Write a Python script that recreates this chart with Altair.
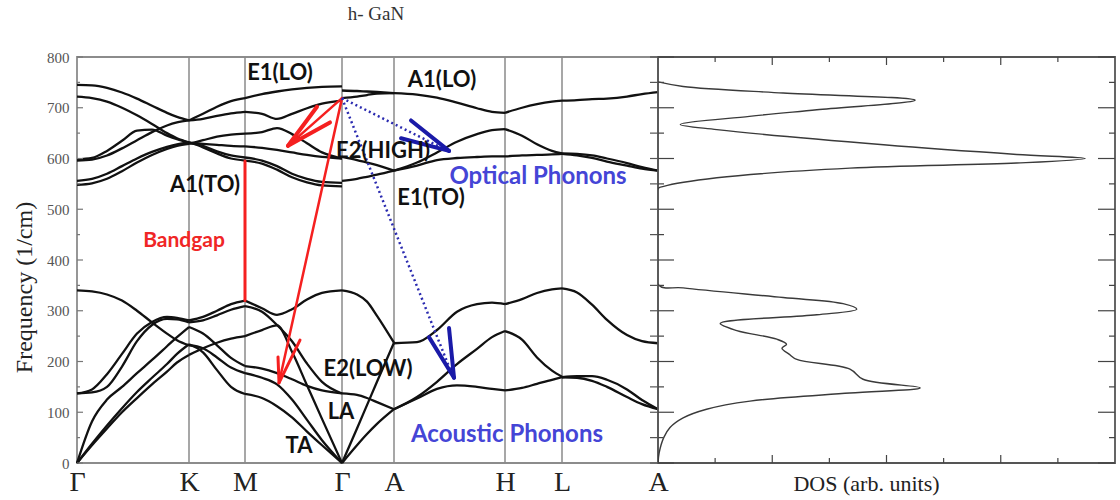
import altair as alt
import pandas as pd

# ---------------- data ----------------
kpt_labels = ["Γ", "K", "M", "Γ", "A", "H", "L", "A"]
kpt_pos = [0, 112, 168, 265, 317, 428, 485, 581]

GK_k = [0, 15, 30, 45, 60, 75, 90, 100, 112]
GK_bands = [
    [0, 35, 68, 100, 128, 155, 180, 198, 213],
    [0, 38, 74, 108, 140, 168, 195, 215, 234],
    [0, 82, 125, 150, 177, 203, 230, 248, 268],
    [137, 145, 175, 215, 255, 278, 288, 286, 281],
    [137, 139, 150, 190, 240, 272, 284, 283, 277],
    [340, 338, 332, 320, 300, 277, 255, 242, 232],
    [745, 744, 739, 730, 718, 704, 690, 682, 675],
    [722, 719, 712, 700, 685, 668, 650, 640, 632],
    [598, 601, 615, 635, 655, 657, 645, 638, 631],
    [596, 598, 606, 620, 636, 652, 665, 671, 675],
    [556, 560, 570, 585, 600, 613, 623, 628, 631],
    [548, 551, 560, 575, 592, 607, 619, 625, 629],
]

KM_k = [112, 126, 140, 154, 168]
KM_bands = [
    [213, 226, 237, 245, 250],
    [234, 218, 183, 150, 136],
    [268, 255, 232, 207, 191],
    [281, 288, 300, 313, 320],
    [277, 281, 291, 302, 309],
    [232, 226, 208, 188, 177],
    [675, 678, 684, 689, 692],
    [632, 622, 610, 600, 596],
    [631, 629, 627, 625, 624],
    [675, 688, 702, 713, 719],
    [631, 625, 614, 606, 602],
    [629, 636, 643, 647, 649],
]

MG_k = [168, 185, 200, 215, 230, 245, 265]
MG_bands = [
    [320, 305, 292, 303, 322, 335, 340],
    [309, 298, 272, 240, 196, 160, 137],
    [250, 262, 271, 219, 153, 87, 0],
    [191, 186, 177, 165, 152, 143, 137],
    [177, 168, 155, 125, 85, 45, 0],
    [136, 128, 112, 90, 62, 35, 0],
    [719, 727, 732, 736, 739, 741, 742],
    [692, 688, 678, 688, 699, 708, 714],
    [649, 652, 660, 648, 630, 612, 600],
    [624, 621, 617, 612, 607, 603, 600],
    [602, 596, 585, 570, 560, 554, 552],
    [596, 590, 578, 563, 553, 547, 545],
]

GA_k = [265, 280, 290, 300, 317]
GA_bands = [
    [340, 332, 318, 290, 237],
    [0, 68, 114, 160, 237],
    [137, 134, 128, 120, 106],
    [0, 35, 57, 77, 106],
    [734, 733, 732, 731, 729],
    [719, 722, 725, 728, 729],
    [603, 597, 592, 587, 576],
    [556, 560, 564, 568, 576],
]

AH_k = [317, 340, 360, 380, 400, 415, 428]
AH_bands = [
    [236, 238, 262, 298, 313, 316, 313],
    [106, 130, 160, 195, 225, 248, 260],
    [106, 127, 146, 153, 150, 146, 143],
    [729, 726, 720, 710, 699, 692, 690],
    [576, 592, 612, 633, 648, 656, 658],
    [576, 586, 597, 601, 603, 604, 604],
]

HL_k = [428, 445, 460, 475, 485]
HL_bands = [
    [313, 323, 335, 342, 344],
    [260, 243, 208, 182, 170],
    [143, 148, 156, 164, 169],
    [690, 700, 707, 712, 714],
    [658, 645, 628, 615, 610],
    [604, 606, 607, 608, 609],
]

LA_k = [485, 500, 515, 530, 550, 565, 581]
LA_bands = [
    [344, 336, 312, 282, 252, 240, 236],
    [169, 171, 171, 164, 145, 124, 106],
    [169, 168, 162, 150, 130, 116, 106],
    [714, 715, 717, 718, 722, 727, 731],
    [610, 609, 606, 600, 591, 583, 576],
    [609, 606, 601, 594, 586, 580, 576],
]

dos_freq = [0, 20, 50, 70, 89, 106, 122, 138, 148, 165, 185, 204, 214, 226, 234, 244,
            261, 275, 292, 303, 314, 326, 345, 352, 540, 545, 562, 581, 591, 600, 608,
            627, 657, 667, 683, 696, 715, 729, 742, 751]
dos_val = [0, 0.02, 0.1, 0.21, 0.44, 0.85, 1.61, 3.36, 4.59, 3.59, 3.36, 2.43, 2.3, 2.17, 2.25, 2.08,
           1.38, 1.09, 2.78, 3.48, 3.24, 2.19, 0.44, 0.0, 0.0, 0.1, 1.03, 3.36, 6.28, 7.48, 6.28,
           3.95, 1.03, 0.39, 1.6, 2.78, 4.5, 2.19, 0.44, 0.0]

lbl_text = ["E1(LO)", "A1(LO)", "E2(HIGH)", "A1(TO)", "E1(TO)", "Optical Phonons",
            "Bandgap", "E2(LOW)", "LA", "TA", "Acoustic Phonons"]
lbl_k = [203, 365, 306, 128, 354, 461, 107, 291, 264, 222, 430]
lbl_f = [768, 755, 615, 548, 522, 564, 437, 185, 100, 33, 55]
lbl_color = ["#111111", "#111111", "#111111", "#111111", "#111111", "#4545d6",
             "#f02626", "#111111", "#111111", "#111111", "#4545d6"]
lbl_size = [22, 22, 22, 22, 22, 24, 21, 22, 22, 22, 24]

# arrows: start (k1,f1) -> end (k2,f2)
red_k1 = [168, 265, 202, 202, 265, 211, 211]
red_f1 = [320, 719, 158, 158, 719, 625, 625]
red_k2 = [168, 202, 201, 223, 211, 240, 253]
red_f2 = [595, 158, 209, 242, 625, 702, 671]
red_w = [3, 2.5, 3, 3, 2.5, 4, 4]

blue_dot_k1 = [265, 265]
blue_dot_f1 = [719, 719]
blue_dot_k2 = [368, 374]
blue_dot_f2 = [618, 180]

blue_head_k1 = [372, 372, 377, 377]
blue_head_f1 = [615, 615, 168, 168]
blue_head_k2 = [334, 324, 352, 372]
blue_head_f2 = [675, 640, 248, 266]

title_text = ["h- GaN"]
title_k = [299]
title_f = [885]

# ---------------- build tables ----------------
rows = []
segments = [("GK", GK_k, GK_bands), ("KM", KM_k, KM_bands), ("MG", MG_k, MG_bands),
            ("GA", GA_k, GA_bands), ("AH", AH_k, AH_bands), ("HL", HL_k, HL_bands),
            ("LA", LA_k, LA_bands)]
for seg, ks, bands in segments:
    for bi, vals in enumerate(bands):
        for k, f in zip(ks, vals):
            rows.append({"curve": f"{seg}{bi}", "k": k, "freq": f})
bands_df = pd.DataFrame(rows)

dos_df = pd.DataFrame({"dos": dos_val, "freq": dos_freq})
lbl_df = pd.DataFrame({"text": lbl_text, "k": lbl_k, "freq": lbl_f, "color": lbl_color,
                       "size": lbl_size})
red_df = pd.DataFrame({"k": red_k1, "freq": red_f1, "k2": red_k2, "freq2": red_f2, "w": red_w})
bdot_df = pd.DataFrame({"k": blue_dot_k1, "freq": blue_dot_f1, "k2": blue_dot_k2, "freq2": blue_dot_f2})
bhead_df = pd.DataFrame({"k": blue_head_k1, "freq": blue_head_f1, "k2": blue_head_k2, "freq2": blue_head_f2})
title_df = pd.DataFrame({"text": title_text, "k": title_k, "freq": title_f})
kline_df = pd.DataFrame({"k": kpt_pos[1:-1]})
major_df = pd.DataFrame({"freq": list(range(0, 801, 100))})
minor_df = pd.DataFrame({"freq": list(range(50, 800, 100))})
dos_major_x = pd.DataFrame({"dos": [2, 4, 6]})
dos_minor_x = pd.DataFrame({"dos": [1, 3, 5, 7]})

SERIF = "Liberation Serif"
SANS = "Lato"
W1, W2, H = 581, 457, 406

xs = alt.Scale(domain=[0, 581], nice=False, zero=False)
ys = alt.Scale(domain=[0, 800], nice=False)

label_expr = "[" + ",".join(f"'{l}'" for l in kpt_labels) + "][indexof([" + \
    ",".join(str(p) for p in kpt_pos) + "], datum.value)]"

x_axis = alt.Axis(values=kpt_pos, labelExpr=label_expr, ticks=False, domain=False, grid=False,
                  labelFont=SERIF, labelFontSize=28, labelColor="#222222", labelPadding=5,
                  labelOverlap=False, labelFlush=False, title=None)
y_axis = alt.Axis(values=list(range(0, 801, 100)), ticks=False, domain=False, grid=False,
                  labelFont=SERIF, labelFontSize=15, labelColor="#555555", labelPadding=8,
                  title="Frequency (1/cm)", titleFont=SERIF, titleFontSize=24,
                  titleFontWeight="normal", titleColor="#222222", titleX=-41, titleY=230,
                  titleBaseline="bottom", titleAlign="center")

base_x = alt.X("k:Q", scale=xs, axis=x_axis)

klines = alt.Chart(kline_df).mark_rule(color="#8a8a8a", strokeWidth=1.5).encode(
    x=base_x, y=alt.Y(datum=0, scale=ys, axis=y_axis), y2=alt.datum(800))

band_lines = alt.Chart(bands_df).mark_line(color="#111111", strokeWidth=2.3,
                                           interpolate="monotone").encode(
    x=alt.X("k:Q", scale=xs), y=alt.Y("freq:Q", scale=ys), detail="curve:N", order="k:Q")

tick_maj_l = alt.Chart(major_df).mark_rule(color="#777777", strokeWidth=1.2).encode(
    y=alt.Y("freq:Q", scale=ys), x=alt.value(0), x2=alt.value(6))
tick_min_l = alt.Chart(minor_df).mark_rule(color="#777777", strokeWidth=1.2).encode(
    y=alt.Y("freq:Q", scale=ys), x=alt.value(0), x2=alt.value(3))
tick_maj_r = alt.Chart(major_df).mark_rule(color="#555555", strokeWidth=1.2).encode(
    y=alt.Y("freq:Q", scale=ys), x=alt.value(W1 - 8), x2=alt.value(W1))
tick_min_r = alt.Chart(minor_df).mark_rule(color="#555555", strokeWidth=1.2).encode(
    y=alt.Y("freq:Q", scale=ys), x=alt.value(W1 - 8), x2=alt.value(W1))

red_rules = alt.Chart(red_df).mark_rule(color="#f52020", strokeCap="round").encode(
    x=alt.X("k:Q", scale=xs), y=alt.Y("freq:Q", scale=ys), x2="k2:Q", y2="freq2:Q",
    strokeWidth=alt.StrokeWidth("w:Q", scale=None))
blue_dots = alt.Chart(bdot_df).mark_rule(color="#2b2bb0", strokeWidth=2.5,
                                         strokeDash=[2, 3]).encode(
    x=alt.X("k:Q", scale=xs), y=alt.Y("freq:Q", scale=ys), x2="k2:Q", y2="freq2:Q")
blue_heads = alt.Chart(bhead_df).mark_rule(color="#1a1aa8", strokeWidth=4,
                                           strokeCap="round").encode(
    x=alt.X("k:Q", scale=xs), y=alt.Y("freq:Q", scale=ys), x2="k2:Q", y2="freq2:Q")

labels = alt.Chart(lbl_df).mark_text(font=SANS, fontWeight="bold",
                                     align="center", baseline="middle").encode(
    x=alt.X("k:Q", scale=xs), y=alt.Y("freq:Q", scale=ys), text="text:N",
    color=alt.Color("color:N", scale=None), size=alt.Size("size:Q", scale=None))

title_mark = alt.Chart(title_df).mark_text(font=SERIF, fontSize=19, color="#333333",
                                           align="center", baseline="middle").encode(
    x=alt.X("k:Q", scale=xs), y=alt.Y("freq:Q", scale=ys), text="text:N")

left = alt.layer(
    klines, band_lines, tick_maj_l, tick_min_l, tick_maj_r, tick_min_r,
    red_rules, blue_dots, blue_heads, labels, title_mark,
).properties(width=W1, height=H,
             view=alt.ViewBackground(stroke="#8c8c8c", strokeWidth=1.8))

# ---------------- DOS panel ----------------
dxs = alt.Scale(domain=[0, 8], nice=False, zero=True)
dos_x_axis = alt.Axis(labels=False, ticks=False, domain=False, grid=False,
                      title="DOS (arb. units)", titleFont=SERIF, titleFontSize=22,
                      titleFontWeight="normal", titleColor="#222222", titleX=208,
                      titleY=20, titleBaseline="middle", titleAlign="center")

dos_line = alt.Chart(dos_df).mark_line(color="#3a3a3a", strokeWidth=1.4,
                                       interpolate="catmull-rom", clip=True).encode(
    x=alt.X("dos:Q", scale=dxs, axis=dos_x_axis),
    y=alt.Y("freq:Q", scale=ys, axis=None), order="freq:Q")

d_tl_maj = alt.Chart(major_df).mark_rule(color="#444444", strokeWidth=1.2).encode(
    y=alt.Y("freq:Q", scale=ys), x=alt.value(0), x2=alt.value(16))
d_tl_min = alt.Chart(minor_df).mark_rule(color="#444444", strokeWidth=1.2).encode(
    y=alt.Y("freq:Q", scale=ys), x=alt.value(0), x2=alt.value(6))
d_tr_maj = alt.Chart(major_df).mark_rule(color="#444444", strokeWidth=1.2).encode(
    y=alt.Y("freq:Q", scale=ys), x=alt.value(W2 - 17), x2=alt.value(W2))
d_tr_min = alt.Chart(minor_df).mark_rule(color="#444444", strokeWidth=1.2).encode(
    y=alt.Y("freq:Q", scale=ys), x=alt.value(W2 - 6), x2=alt.value(W2))
d_tb_maj = alt.Chart(dos_major_x).mark_rule(color="#444444", strokeWidth=1.2).encode(
    x=alt.X("dos:Q", scale=dxs), y=alt.value(H - 8), y2=alt.value(H))
d_tb_min = alt.Chart(dos_minor_x).mark_rule(color="#444444", strokeWidth=1.2).encode(
    x=alt.X("dos:Q", scale=dxs), y=alt.value(H - 5), y2=alt.value(H))
d_tt_maj = alt.Chart(dos_major_x).mark_rule(color="#444444", strokeWidth=1.2).encode(
    x=alt.X("dos:Q", scale=dxs), y=alt.value(0), y2=alt.value(8))
d_tt_min = alt.Chart(dos_minor_x).mark_rule(color="#444444", strokeWidth=1.2).encode(
    x=alt.X("dos:Q", scale=dxs), y=alt.value(0), y2=alt.value(5))

right = alt.layer(
    dos_line, d_tl_maj, d_tl_min, d_tr_maj, d_tr_min, d_tb_maj, d_tb_min, d_tt_maj, d_tt_min
).properties(width=W2, height=H,
             view=alt.ViewBackground(stroke="#555555", strokeWidth=1.8))

chart = alt.hconcat(left, right, spacing=0, bounds="flush").properties(
    padding={"left": 11, "right": 2, "top": 3, "bottom": 0},
    background="white",
).configure_view(strokeWidth=1.8)

chart.save("out.html", embed_options={"renderer": "svg", "actions": False})
